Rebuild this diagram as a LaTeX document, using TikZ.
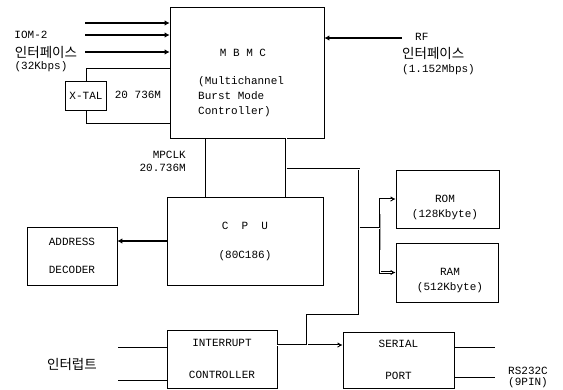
\documentclass[tikz,border=0pt]{standalone}
\usepackage{fontspec}
\setmainfont{Liberation Mono}
\newfontfamily\krfont{Noto Sans CJK KR}
\usetikzlibrary{arrows.meta}
\tikzset{
    block/.style={draw, line width=0.7pt, inner sep=0pt, align=center, font=\fontsize{11}{13}\selectfont},
    busline/.style={line width=2.4pt, postaction={draw=white, line width=1pt, -}},
    busarrow/.style={line width=2.4pt, ->, postaction={draw=white, line width=1pt, -, shorten >=4pt}},
    busboth/.style={line width=2.4pt, <->, postaction={draw=white, line width=1pt, -, shorten <=4pt, shorten >=4pt}},
    iobus/.style={line width=1.5pt},
    wire/.style={line width=0.7pt},
    plainlabel/.style={inner sep=0pt, align=center, font=\fontsize{11}{15}\selectfont},
    krlabel/.style={inner sep=0pt, font=\krfont\fontsize{13.5}{15}\selectfont}
}

\begin{document}
\begin{tikzpicture}[x=1pt, y=-1pt, >={Latex[length=5pt, width=5.5pt]}]
    \useasboundingbox (0,0) rectangle (563,389);

    % ---------- blocks ----------
    \node[block, minimum width=154pt, minimum height=131pt] (mbmc) at (247,72.5) {};
    \node[block, minimum width=41pt, minimum height=29pt] (xtal) at (86,95.5) {X-TAL};
    \node[block, minimum width=156pt, minimum height=88pt] (cpu) at (245,241) {C~~P~~U\\[16pt](80C186)};
    \node[block, minimum width=90pt, minimum height=58pt] (addr) at (72,256) {ADDRESS\\[15pt]DECODER};
    \node[block, minimum width=103pt, minimum height=58pt] (rom) at (447.5,199) {};
    \node[block, minimum width=102pt, minimum height=59pt] (ram) at (447,272.5) {};
    \node[block, minimum width=110pt, minimum height=58pt] (intr) at (222,359) {INTERRUPT\\[19pt]CONTROLLER};
    \node[block, minimum width=111pt, minimum height=56pt] (serial) at (398.5,360) {SERIAL\\[19pt]PORT};

    % ---------- texts ----------
    \node[plainlabel] (mbmcname) at (243,53) {M~B~M~C};
    \node[plainlabel, anchor=west, align=left] (mbmcdesc) at (198,97) {(Multichannel\\ Burst Mode\\ Controller)};
    \node[plainlabel] (romtxt) at (445,207.5) {ROM\\(128Kbyte)};
    \node[plainlabel] (ramtxt) at (450,280.5) {RAM\\(512Kbyte)};

    \node[plainlabel] (iomname) at (31,35) {IOM-2};
    \node[krlabel] (iomkr) at (46,52) {인터페이스};
    \node[plainlabel] (iomrate) at (41,67) {(32Kbps)};
    \node[plainlabel] (xtalfreq) at (138,95) {20 736M};

    \node[plainlabel, anchor=west] (rfname) at (415,37) {RF};
    \node[krlabel, anchor=west] (rfkr) at (402,53) {인터페이스};
    \node[plainlabel, anchor=west] (rfrate) at (402,70) {(1.152Mbps)};

    \node[plainlabel, anchor=east] (ckname) at (186,155) {MPCLK};
    \node[plainlabel, anchor=east] (ckfreq) at (186,168) {20.736M};

    \node[krlabel] (irqkr) at (72,364) {인터럽트};
    \node[plainlabel, anchor=west, align=left, font=\fontsize{11}{11}\selectfont] (rsname) at (508,377.5) {RS232C\\(9PIN)};

    % ---------- MBMC side lines ----------
    \coordinate (iom1) at (85,23);
    \coordinate (iom2) at (85,35);
    \coordinate (iom3) at (85,52);
    \draw[iobus, ->] (iom1) -- (iom1 -| mbmc.west);
    \draw[iobus, ->] (iom2) -- (iom2 -| mbmc.west);
    \draw[iobus, ->] (iom3) -- (iom3 -| mbmc.west);

    \coordinate (xtop) at (86,68);
    \coordinate (xbot) at (86,123);
    \draw[wire] (xtal.north) -- (xtop) -- (xtop -| mbmc.west);
    \draw[wire] (xtal.south) -- (xbot) -- (xbot -| mbmc.west);

    \coordinate (rf) at (402,38);
    \draw[iobus, <-] (rf -| mbmc.east) -- (rf);

    % ---------- clock and bus ----------
    \coordinate (ck) at (205,0);
    \draw[wire] (mbmc.south -| ck) -- (cpu.north -| ck);

    \coordinate (bs) at (286,169);
    \coordinate (b1) at (359,169);
    \coordinate (b2) at (359,315);
    \coordinate (b3) at (307,315);
    \coordinate (is) at (0,345);
    \coordinate (m1) at (359,228);
    \coordinate (m2) at (380,228);

    \draw[busline] (mbmc.south -| bs) -- (cpu.north -| bs);
    \draw[busarrow] (intr.east |- is) -- (serial.west |- is);
    \draw[busline, shorten <=0.5pt, shorten >=0.5pt] (bs) -- (b1) -- (b2) -- (b3) -- (b3 |- is);
    \draw[busboth] (rom.west) -| (m2) |- (ram.west);
    \draw[busline, shorten <=0.5pt, shorten >=0.5pt] (m1) -- (m2);

    \draw[iobus, ->] (cpu.west) -- (cpu.west -| addr.east);

    % ---------- interrupt and serial lines ----------
    \coordinate (ii1) at (118,347);
    \coordinate (ii2) at (118,380);
    \draw[wire] (ii1) -- (ii1 -| intr.west);
    \draw[wire] (ii2) -- (ii2 -| intr.west);

    \coordinate (so1) at (495,347);
    \coordinate (so2) at (495,377);
    \draw[wire] (serial.east |- so1) -- (so1);
    \draw[wire] (serial.east |- so2) -- (so2);
\end{tikzpicture}
\end{document}
